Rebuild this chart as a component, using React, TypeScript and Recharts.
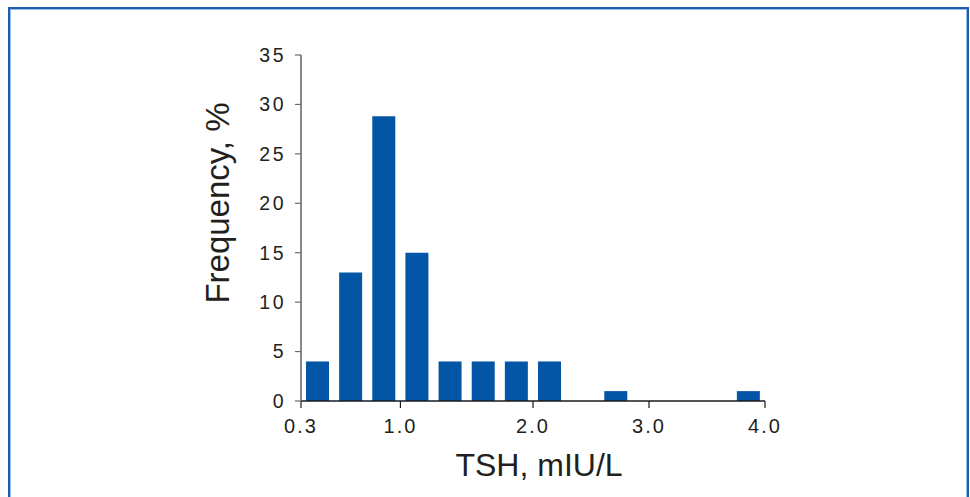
import React from "react";
import { BarChart, Bar, XAxis, YAxis, Label } from "recharts";

// Bin centres on the histogram's bin-index scale (0..14 spans 0.3 .. 4.0 mIU/L)
const binCenters = [0.5, 1.5, 2.5, 3.5, 4.5, 5.5, 6.5, 7.5, 8.5, 9.5, 10.5, 11.5, 12.5, 13.5];
const frequencies = [4, 13, 28.8, 15, 4, 4, 4, 4, 0, 1, 0, 0, 0, 1];
const xTickValues = [0, 3, 7, 10.5, 14];
const xTickLabels = ["0.3", "1.0", "2.0", "3.0", "4.0"];
const yTicks = [0, 5, 10, 15, 20, 25, 30, 35];
const xTitle = "TSH, mIU/L";
const yTitle = "Frequency, %";

const data = binCenters.map((x, i) => ({ x, freq: frequencies[i] }));

const FONT = "'Liberation Sans', Arial, Helvetica, sans-serif";
const TEXT = "#231f20";

export default function App() {
  return (
    <div
      style={{
        position: "absolute",
        left: 0,
        top: 0,
        width: 970,
        height: 497,
        overflow: "hidden",
        background: "#ffffff",
        fontFamily: FONT,
      }}
    >
      <div
        style={{
          position: "absolute",
          left: 8,
          top: 7,
          width: 957,
          height: 497,
          borderTop: "2px solid #1c5fb2",
          borderLeft: "2px solid #1c5fb2",
          borderRight: "2px solid #1c5fb2",
          boxShadow: "inset 1px 1px 0 #9bbbe3, inset -1px 0 0 #9bbbe3",
        }}
      />
      <div style={{ position: "absolute", left: 0, top: 0 }}>
        <BarChart
          width={970}
          height={497}
          data={data}
          margin={{ top: 55, right: 205, bottom: 20, left: 142 }}
        >
          <XAxis
            dataKey="x"
            type="number"
            domain={[0, 14]}
            ticks={xTickValues}
            interval={0}
            allowDataOverflow
            height={76}
            tickSize={7}
            tickMargin={11}
            stroke="#1a1a1a"
            strokeWidth={1.6}
            tickLine={{ stroke: "#1a1a1a", strokeWidth: 1.2 }}
            tick={{ fontSize: 20, fill: TEXT, fontFamily: FONT, letterSpacing: 2 }}
            tickFormatter={(v: number) => xTickLabels[xTickValues.indexOf(v)] ?? ""}
          >
            <Label
              content={(props: any) => {
                const vb = props.viewBox || {};
                const cx = vb.x + vb.width / 2 + 6;
                const by = vb.y + vb.height - 1;
                return (
                  <text x={cx} y={by} textAnchor="middle" fontSize={32} fill={TEXT} fontFamily={FONT}>
                    {xTitle}
                  </text>
                );
              }}
            />
          </XAxis>
          <YAxis
            type="number"
            domain={[0, 35]}
            ticks={yTicks}
            interval={0}
            width={159}
            tickSize={6}
            tickMargin={9}
            stroke="#6a6a6a"
            strokeWidth={1.6}
            tickLine={{ stroke: "#6a6a6a", strokeWidth: 1.2 }}
            tick={{ fontSize: 19.5, fill: TEXT, fontFamily: FONT, letterSpacing: 2.5 }}
          >
            <Label
              content={(props: any) => {
                const vb = props.viewBox || {};
                const cx = vb.x + 75.2;
                const cy = vb.y + vb.height / 2 - 25;
                return (
                  <text
                    x={cx}
                    y={cy}
                    dy="0.355em"
                    textAnchor="middle"
                    fontSize={33}
                    fill={TEXT}
                    fontFamily={FONT}
                    transform={`rotate(-90, ${cx}, ${cy})`}
                  >
                    {yTitle}
                  </text>
                );
              }}
            />
          </YAxis>
          <Bar dataKey="freq" fill="#0356a6" barSize={23} isAnimationActive={false} />
        </BarChart>
      </div>
    </div>
  );
}
